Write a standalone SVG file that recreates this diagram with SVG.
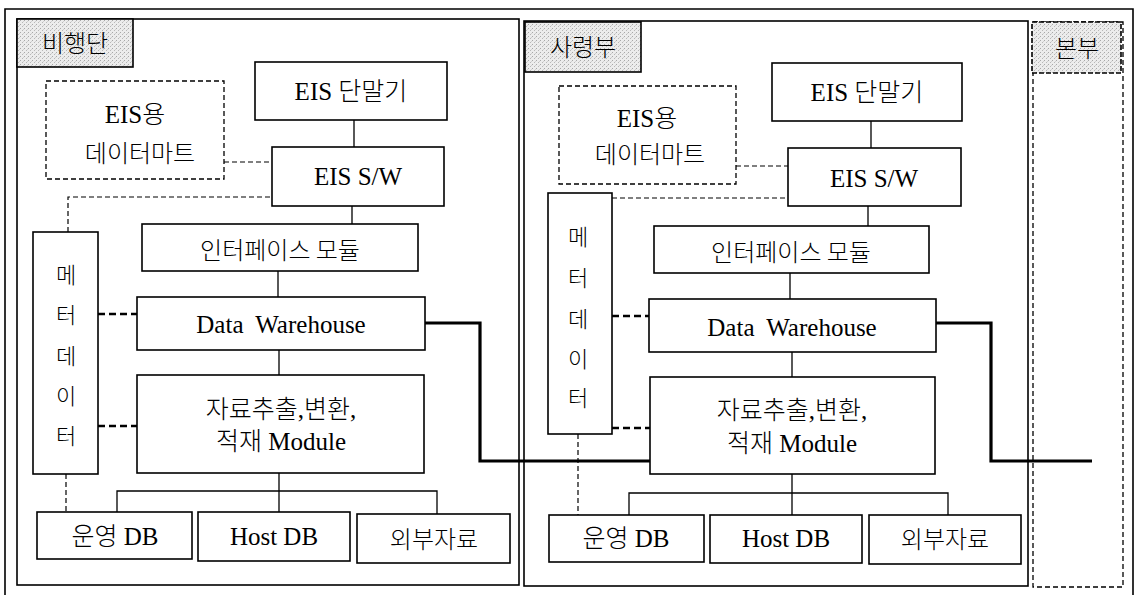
<svg xmlns="http://www.w3.org/2000/svg" width="1135" height="595" viewBox="0 0 1135 595">
<defs>
<pattern id="stip" width="4" height="4" patternUnits="userSpaceOnUse">
<rect width="4" height="4" fill="#ececec"/>
<rect x="0" y="0" width="1" height="1" fill="#a8a8a8"/>
<rect x="2" y="2" width="1" height="1" fill="#b8b8b8"/>
<rect x="3" y="1" width="1" height="1" fill="#d0d0d0"/>
</pattern>
<style>
.box{fill:#fff;stroke:#000;stroke-width:1.6}
.dbox{fill:#fff;stroke:#000;stroke-width:1.3;stroke-dasharray:5 3}
.panel{fill:none;stroke:#000;stroke-width:1.6}
.lbl{fill:url(#stip);stroke:#000;stroke-width:1.6}
.t{font-family:"Liberation Serif","Noto Sans CJK KR",serif;font-size:25px;font-weight:300;fill:#000;text-anchor:middle}
.k{font-family:"Noto Sans CJK KR",sans-serif;font-size:24px;font-weight:300;fill:#000;text-anchor:middle}
.v{font-family:"Noto Sans CJK KR",sans-serif;font-size:22px;font-weight:300;fill:#000;text-anchor:middle}
.ln{fill:none;stroke:#000;stroke-width:1.3}
.dl{fill:none;stroke:#000;stroke-width:1.2;stroke-dasharray:5 3}
.tdl{fill:none;stroke:#000;stroke-width:2.6;stroke-dasharray:7 4}
.thk{fill:none;stroke:#000;stroke-width:3.2}
</style>
</defs>
<rect x="0" y="0" width="1135" height="595" fill="#fff"/>
<g id="frame">
<path class="panel" d="M5,595 V9 H1133 V595"/>
</g>
<g id="panel-1">
<rect class="panel" x="17" y="19" width="502" height="566"/>
<rect class="lbl" x="17" y="19" width="116" height="48"/>
<text class="k" x="75" y="52" font-size="23">비행단</text>
</g>
<g id="panel-2">
<rect class="panel" x="524" y="21" width="504" height="565"/>
<rect class="lbl" x="525" y="22" width="116" height="50"/>
<text class="k" x="583" y="56" font-size="23">사령부</text>
</g>
<g id="panel-3">
<rect x="1033" y="22" width="90" height="565" fill="none" stroke="#000" stroke-width="1.3" stroke-dasharray="5 3"/>
<rect class="lbl" x="1032" y="22" width="89" height="51" stroke-dasharray="5 2"/>
<text class="k" x="1077" y="57" font-size="22">본부</text>
</g>
<g id="connectors">
<path class="ln" d="M354,120 V147 M352,206 V224 M278,271 V297 M279,350 V375 M279,473 V512 M117,512 V491 H437 V514"/>
<path class="dl" d="M224,162 H272 M68,232 V197 H272 M66,474 V512"/>
<path class="tdl" d="M98,314 H137 M98,426 H137"/>
<path class="ln" d="M871,121 V148 M868,206 V226 M790,273 V299 M792,352 V377 M792,474 V515 M629,515 V493 H948 V515"/>
<path class="dl" d="M736,166 H788 M612,198 H788 M578,434 V515"/>
<path class="tdl" d="M612,316 H649 M612,428 H650"/>
<path class="thk" d="M425,323 H480 V461 H650"/>
<path class="thk" d="M936,323 H991 V461 H1092"/>
</g>
<g id="p1-mart">
<rect class="dbox" x="46" y="81" width="178" height="98"/>
<text class="t" x="135" y="123">EIS용</text>
<text class="k" x="140" y="162" font-size="23">데이터마트</text>
</g>
<g id="p1-terminal">
<rect class="box" x="255" y="62" width="192" height="58"/>
<text class="t" x="351" y="100">EIS 단말기</text>
</g>
<g id="p1-sw">
<rect class="box" x="272" y="147" width="172" height="59"/>
<text class="t" x="358" y="185">EIS S/W</text>
</g>
<g id="p1-interface">
<rect class="box" x="142" y="224" width="276" height="47"/>
<text class="k" x="280" y="259">인터페이스 모듈</text>
</g>
<g id="p1-dw">
<rect class="box" x="137" y="297" width="288" height="53"/>
<text class="t" x="281" y="333" font-size="26" word-spacing="6">Data Warehouse</text>
</g>
<g id="p1-etl">
<rect class="box" x="137" y="375" width="287" height="98"/>
<text class="t" x="281" y="418">자료추출,변환,</text>
<text class="t" x="281" y="450">적재 Module</text>
</g>
<g id="p1-meta">
<rect class="box" x="33" y="232" width="65" height="242"/>
<text class="v" x="66" y="283">메</text>
<text class="v" x="66" y="323">터</text>
<text class="v" x="66" y="364">데</text>
<text class="v" x="66" y="404">이</text>
<text class="v" x="66" y="444">터</text>
</g>
<g id="p1-opdb">
<rect class="box" x="37" y="512" width="155" height="47"/>
<text class="t" x="115" y="545">운영 DB</text>
</g>
<g id="p1-hostdb">
<rect class="box" x="198" y="512" width="152" height="49"/>
<text class="t" x="274" y="545">Host DB</text>
</g>
<g id="p1-ext">
<rect class="box" x="357" y="514" width="153" height="49"/>
<text class="k" x="434" y="548">외부자료</text>
</g>
<g id="p2-mart">
<rect class="dbox" x="559" y="86" width="177" height="98"/>
<text class="t" x="647" y="127">EIS용</text>
<text class="k" x="650" y="163" font-size="23">데이터마트</text>
</g>
<g id="p2-terminal">
<rect class="box" x="772" y="63" width="190" height="58"/>
<text class="t" x="867" y="101">EIS 단말기</text>
</g>
<g id="p2-sw">
<rect class="box" x="788" y="148" width="173" height="58"/>
<text class="t" x="874" y="187">EIS S/W</text>
</g>
<g id="p2-interface">
<rect class="box" x="654" y="226" width="275" height="47"/>
<text class="k" x="791" y="261">인터페이스 모듈</text>
</g>
<g id="p2-dw">
<rect class="box" x="649" y="299" width="287" height="53"/>
<text class="t" x="792" y="336" font-size="26" word-spacing="6">Data Warehouse</text>
</g>
<g id="p2-etl">
<rect class="box" x="650" y="377" width="285" height="97"/>
<text class="t" x="792" y="419">자료추출,변환,</text>
<text class="t" x="792" y="452">적재 Module</text>
</g>
<g id="p2-meta">
<rect class="box" x="548" y="193" width="64" height="241"/>
<text class="v" x="578" y="245">메</text>
<text class="v" x="578" y="286">터</text>
<text class="v" x="578" y="327">데</text>
<text class="v" x="578" y="367">이</text>
<text class="v" x="578" y="406">터</text>
</g>
<g id="p2-opdb">
<rect class="box" x="549" y="515" width="155" height="47"/>
<text class="t" x="626" y="547">운영 DB</text>
</g>
<g id="p2-hostdb">
<rect class="box" x="710" y="515" width="152" height="48"/>
<text class="t" x="786" y="547">Host DB</text>
</g>
<g id="p2-ext">
<rect class="box" x="869" y="515" width="152" height="49"/>
<text class="k" x="945" y="548">외부자료</text>
</g>
</svg>
